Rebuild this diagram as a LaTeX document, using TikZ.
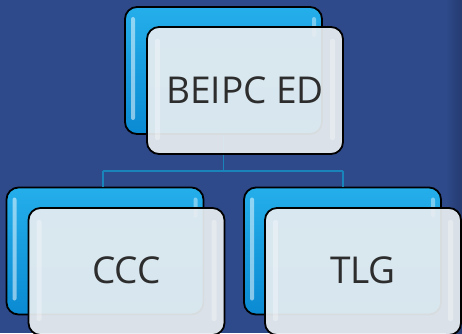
\documentclass[tikz,border=0pt]{standalone}
\usepackage{fontspec}
\setmainfont{Open Sans}
\usetikzlibrary{calc}
\definecolor{bgblue}{RGB}{46,74,138}
\definecolor{bgdark}{RGB}{36,58,112}
\definecolor{conncol}{RGB}{24,132,186}
\definecolor{boxbluetop}{RGB}{36,174,234}
\definecolor{boxbluebot}{RGB}{10,138,210}
\definecolor{frontfill}{RGB}{232,237,241}
\definecolor{txtgray}{RGB}{45,45,45}
\tikzset{
  backbox/.style={draw=black, line width=1.8pt, rounded corners=12pt,
    minimum width=197pt, minimum height=127pt, inner sep=0pt,
    top color=boxbluetop, bottom color=boxbluebot,
    path picture={
      \fill[white, opacity=0.5, rounded corners=2pt]
        ($(path picture bounding box.north west)+(6pt,-10pt)$) rectangle
        ($(path picture bounding box.south west)+(10pt,14pt)$);
      \fill[white, opacity=0.4, rounded corners=2pt]
        ($(path picture bounding box.north east)+(-10pt,-10pt)$) rectangle
        ($(path picture bounding box.north east)+(-6pt,-30pt)$);
    }},
  frontbox/.style={draw=black, line width=1.8pt, rounded corners=12pt,
    minimum width=196pt, minimum height=127pt, inner sep=0pt,
    fill=frontfill, fill opacity=0.93, text opacity=1,
    font=\fontsize{37}{40}\selectfont, text=txtgray,
    path picture={
      \fill[white, opacity=0.3, rounded corners=2pt]
        ($(path picture bounding box.north west)+(8pt,-12pt)$) rectangle
        ($(path picture bounding box.south west)+(13pt,14pt)$);
      \fill[white, opacity=0.3, rounded corners=2pt]
        ($(path picture bounding box.north east)+(-13pt,-12pt)$) rectangle
        ($(path picture bounding box.south east)+(-8pt,14pt)$);
    }},
  conn/.style={draw=conncol, line width=1.8pt}
}
\begin{document}
\begin{tikzpicture}[x=1pt,y=-1pt]
\useasboundingbox (0,0) rectangle (462,333);
\fill[bgblue] (0,0) rectangle (462,333);
\shade[left color=bgblue, right color=bgdark] (446,0) rectangle (462,333);
% back boxes
\node[backbox] (b0) at (223.5,70.5) {};
\node[backbox] (b1) at (105,251) {};
\node[backbox] (b2) at (342.5,251) {};
% connectors
\coordinate (j) at (223.5,171);
\coordinate (jl) at (103,171);
\coordinate (jr) at (343,171);
\draw[conn] (b0.south) -- (j);
\draw[conn] (jl) -- (jr);
\draw[conn] (jl) -- (jl |- b1.north);
\draw[conn] (jr) -- (jr |- b2.north);
% front boxes
\node[frontbox] (f0) at (245,90.5) {BEIPC ED};
\node[frontbox] (f1) at (126.5,271.5) {\raisebox{2pt}{CCC}};
\node[frontbox] (f2) at (363,271.5) {\raisebox{2pt}{TLG}};
\end{tikzpicture}
\end{document}
